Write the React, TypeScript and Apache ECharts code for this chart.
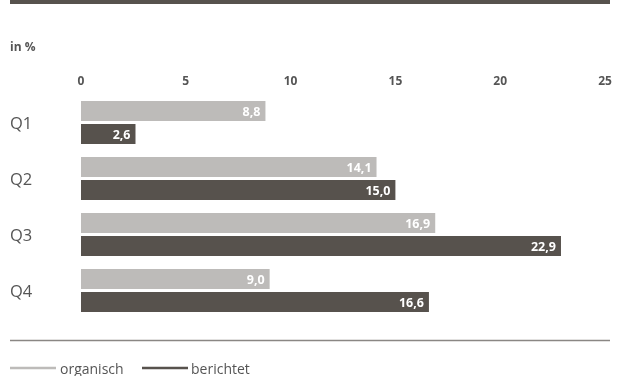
import React, { useEffect, useRef } from "react";
import * as echarts from "echarts";

const categories = ["Q1", "Q2", "Q3", "Q4"];
const organisch = [8.8, 14.1, 16.9, 9.0];
const berichtet = [2.6, 15.0, 22.9, 16.6];
const xTicks = [0, 5, 10, 15, 20, 25];

const LIGHT = "#bdbbb9";
const DARK = "#57524d";
const FONT = "'Open Sans', 'Noto Sans', sans-serif";

export default function App() {
  const ref = useRef<HTMLDivElement>(null);
  useEffect(() => {
    const chart = echarts.init(ref.current!, null, { renderer: "svg" });
    const labelCfg = {
      show: true,
      position: "insideRight",
      distance: 5,
      color: "#ffffff",
      fontWeight: "bold",
      fontSize: 12.5,
      fontFamily: FONT,
      formatter: (p: any) => Number(p.value).toFixed(1).replace(".", ","),
    };
    chart.setOption({
      animation: false,
      textStyle: { fontFamily: FONT },
      grid: { left: 81, width: 524, top: 94.5, height: 224, containLabel: false },
      xAxis: {
        type: "value",
        position: "top",
        min: xTicks[0],
        max: xTicks[xTicks.length - 1],
        interval: 5,
        axisLine: { show: false },
        axisTick: { show: false },
        splitLine: { show: false },
        axisLabel: {
          margin: 8,
          color: "#555555",
          fontWeight: "bold",
          fontSize: 12,
          fontFamily: FONT,
        },
      },
      yAxis: {
        type: "category",
        data: categories,
        inverse: true,
        axisLine: { show: false },
        axisTick: { show: false },
        axisLabel: {
          align: "left",
          margin: 71,
          color: "#555555",
          fontSize: 16.5,
          fontFamily: FONT,
        },
      },
      series: [
        {
          name: "organisch",
          type: "bar",
          data: organisch,
          barWidth: 20,
          barGap: "15%",
          itemStyle: { color: LIGHT },
          label: labelCfg,
        },
        {
          name: "berichtet",
          type: "bar",
          data: berichtet,
          barWidth: 20,
          itemStyle: { color: DARK },
          label: labelCfg,
        },
      ],
      graphic: [
        { type: "rect", shape: { x: 10, y: 0, width: 600, height: 4 }, style: { fill: DARK } },
        {
          type: "text",
          x: 10,
          y: 40,
          style: { text: "in %", fill: "#555555", font: `bold 12px ${FONT}` },
        },
        { type: "line", shape: { x1: 10, y1: 340.5, x2: 610, y2: 340.5 }, style: { stroke: "#8a8784", lineWidth: 1.5 } },
        { type: "line", shape: { x1: 10, y1: 368, x2: 56, y2: 368 }, style: { stroke: LIGHT, lineWidth: 2.5 } },
        {
          type: "text",
          x: 60,
          y: 361,
          style: { text: "organisch", fill: "#555555", font: `14px ${FONT}` },
        },
        { type: "line", shape: { x1: 142, y1: 368, x2: 188, y2: 368 }, style: { stroke: DARK, lineWidth: 2.5 } },
        {
          type: "text",
          x: 191,
          y: 361,
          style: { text: "berichtet", fill: "#555555", font: `14px ${FONT}` },
        },
      ],
    });
    return () => chart.dispose();
  }, []);
  return (
    <div
      ref={ref}
      style={{ position: "fixed", left: 0, top: 0, width: 618, height: 376 }}
    />
  );
}
